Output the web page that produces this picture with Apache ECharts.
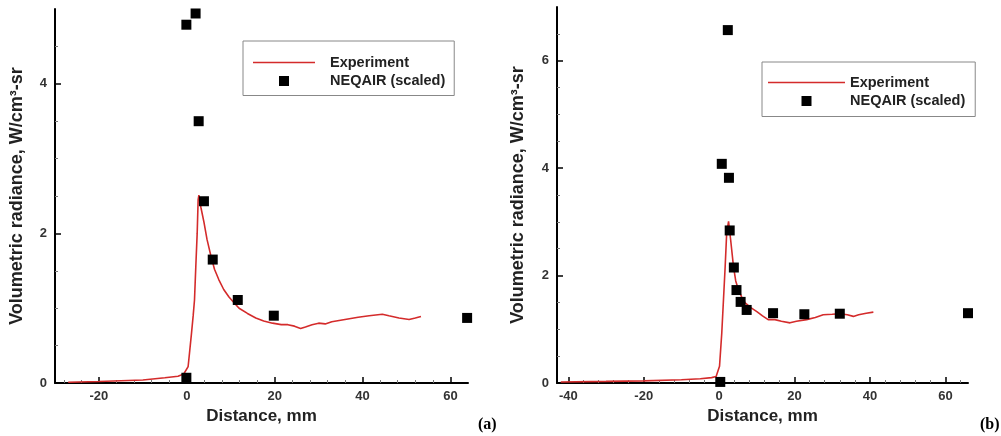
<!DOCTYPE html>
<html>
<head>
<meta charset="utf-8">
<script src="https://cdn.jsdelivr.net/npm/echarts@6/dist/echarts.min.js"></script>
<style>
  html, body { margin: 0; padding: 0; background: #fff; }
  #chart { width: 1001px; height: 436px; }
</style>
</head>
<body>
<div id="chart"></div>
<script>
// panel (a)
const expA = [[-27,0.01],[-20,0.02],[-15,0.03],[-10,0.04],[-5,0.07],[-2,0.09],[-0.7,0.12],[0.3,0.22],[0.68,0.44],[1.06,0.66],[1.45,0.9],[1.75,1.11],[2.05,1.56],[2.36,2.0],[2.58,2.45],[2.75,2.51],[3.2,2.35],[3.9,2.15],[4.6,1.92],[5.4,1.72],[6.3,1.52],[7.3,1.38],[8.4,1.25],[9.6,1.15],[10.8,1.07],[11.9,1.0],[13.8,0.93],[15.7,0.87],[17.5,0.83],[19.5,0.80],[21.5,0.78],[23,0.78],[24.5,0.76],[25.9,0.73],[27,0.75],[28.5,0.78],[30,0.80],[31.5,0.79],[33,0.82],[35,0.84],[37,0.86],[39,0.88],[41.5,0.90],[43,0.91],[44.5,0.92],[46,0.90],[48.3,0.87],[50.6,0.85],[52,0.87],[53.3,0.89]]
const neqA = [[-0.1,0.07],[-0.1,4.79],[2.0,4.94],[2.7,3.5],[3.9,2.43],[5.9,1.65],[11.6,1.11],[19.8,0.90],[63.8,0.87]]

// panel (b)
const expB = [[-42,0.02],[-30,0.03],[-20,0.04],[-10,0.06],[-5,0.08],[-2,0.10],[-0.8,0.12],[0.1,0.31],[0.7,0.93],[1.15,1.55],[1.6,2.17],[2.0,2.79],[2.5,3.01],[3.0,2.7],[3.8,2.17],[4.4,1.9],[5.1,1.74],[6.0,1.6],[6.9,1.49],[8.5,1.40],[10,1.33],[11.5,1.25],[13,1.18],[14.8,1.18],[16.5,1.15],[18.8,1.12],[20.5,1.15],[23.2,1.18],[25.5,1.22],[27.6,1.27],[30,1.28],[32,1.29],[34,1.27],[35.6,1.24],[37,1.27],[39,1.30],[40.9,1.32]]
const neqB = [[0.3,0.02],[0.7,4.08],[2.3,6.57],[2.6,3.82],[2.8,2.84],[3.9,2.15],[4.6,1.73],[5.7,1.51],[7.3,1.36],[14.3,1.30],[22.6,1.28],[32.0,1.29],[66,1.30]]

// ticks
const xMajorA = [-20, 0, 20, 40, 60]
const xMinorA = [-28, -24, -16, -12, -8, -4, 4, 8, 12, 16, 24, 28, 32, 36, 44, 48, 52, 56]
const yMajorA = [0, 2, 4]
const yMinorA = [0.5, 1, 1.5, 2.5, 3, 3.5, 4.5]
const xMajorB = [-40, -20, 0, 20, 40, 60]
const xMinorB = [-36, -32, -28, -24, -16, -12, -8, -4, 4, 8, 12, 16, 24, 28, 32, 36, 44, 48, 52, 56, 64]
const yMajorB = [0, 2, 4, 6]
const yMinorB = [0.5, 1, 1.5, 2.5, 3, 3.5, 4.5, 5, 5.5, 6.5]

const font = 'Liberation Sans, Arial, sans-serif'
const yName = 'Volumetric radiance, W/cm\u00b3-sr'
const xName = 'Distance, mm'

function xAxes(grid, min, max, major, minor) {
  return [{
    type: 'value', gridIndex: grid, min: min, max: max, position: 'bottom',
    name: xName, nameLocation: 'middle', nameGap: 25,
    nameTextStyle: { fontFamily: font, fontWeight: 'bold', fontSize: 17, color: '#222' },
    axisLine: { onZero: false, lineStyle: { color: '#000', width: 2 } },
    axisTick: { inside: true, length: 6, customValues: major, lineStyle: { color: '#000', width: 1.5 } },
    axisLabel: { customValues: major, margin: 7, fontFamily: font, fontWeight: 'bold', fontSize: 13, color: '#333' },
    splitLine: { show: false }
  }, {
    type: 'value', gridIndex: grid, min: min, max: max, position: 'bottom',
    axisLine: { show: false, onZero: false },
    axisTick: { inside: true, length: 3, customValues: minor, lineStyle: { color: '#777', width: 1 } },
    axisLabel: { show: false },
    splitLine: { show: false }
  }]
}

function yAxes(grid, max, major, minor, gap) {
  return [{
    type: 'value', gridIndex: grid, min: 0, max: max, position: 'left',
    name: yName, nameLocation: 'middle', nameGap: gap, nameRotate: 90,
    nameTextStyle: { fontFamily: font, fontWeight: 'bold', fontSize: 18, color: '#222' },
    axisLine: { show: true, onZero: false, lineStyle: { color: '#000', width: 2 } },
    axisTick: { show: true, inside: true, length: 6, customValues: major, lineStyle: { color: '#000', width: 1.5 } },
    axisLabel: { customValues: major, margin: 8, fontFamily: font, fontWeight: 'bold', fontSize: 13, color: '#333' },
    splitLine: { show: false }
  }, {
    type: 'value', gridIndex: grid, min: 0, max: max, position: 'left',
    axisLine: { show: false, onZero: false },
    axisTick: { show: true, inside: true, length: 3, customValues: minor, lineStyle: { color: '#777', width: 1 } },
    axisLabel: { show: false },
    splitLine: { show: false }
  }]
}

function legend(left, top, itemWidth, padding, textPad) {
  return {
    left: left, top: top, orient: 'vertical', selectedMode: false,
    itemWidth: itemWidth, itemHeight: 10, itemGap: 3.5,
    padding: padding, borderColor: '#888', borderWidth: 1,
    textStyle: { fontFamily: font, fontWeight: 'bold', fontSize: 14.5, color: '#222', padding: [0, 0, 0, textPad] },
    data: [
      { name: 'Experiment', icon: 'path://M0,0L' + itemWidth + ',0L' + itemWidth + ',1.6L0,1.6Z' },
      { name: 'NEQAIR (scaled)', icon: 'path://M0,0L10,0L10,10L0,10Z' }
    ]
  }
}

const red = '#d42b2b'
const lineStyle = { color: red, width: 1.6 }

const chart = echarts.init(document.getElementById('chart'))
chart.setOption({
  animation: false,
  grid: [
    { left: 55, top: 9, width: 413, height: 374 },
    { left: 557, top: 7, width: 411, height: 376 }
  ],
  xAxis: [].concat(xAxes(0, -30, 64, xMajorA, xMinorA), xAxes(1, -43, 66, xMajorB, xMinorB)),
  yAxis: [].concat(yAxes(0, 5, yMajorA, yMinorA, 29), yAxes(1, 7, yMajorB, yMinorB, 30)),
  legend: [
    legend(243, 41, 62, [14, 9, 7, 10], 10),
    legend(762, 62, 77, [13, 10, 8, 6], 0)
  ],
  graphic: [
    { type: 'text', left: 478, top: 417, style: { text: '(a)', font: 'bold 16px "Liberation Serif", "Times New Roman", serif', fill: '#000' } },
    { type: 'text', left: 980, top: 417, style: { text: '(b)', font: 'bold 16px "Liberation Serif", "Times New Roman", serif', fill: '#000' } }
  ],
  series: [
    { name: 'Experiment', type: 'line', xAxisIndex: 0, yAxisIndex: 0, data: expA, symbol: 'none', lineStyle: lineStyle, itemStyle: { color: red }, z: 2 },
    { name: 'NEQAIR (scaled)', type: 'scatter', xAxisIndex: 0, yAxisIndex: 0, data: neqA, symbol: 'rect', symbolSize: 10, itemStyle: { color: '#000', opacity: 1 }, clip: false, z: 3 },
    { name: 'Experiment', type: 'line', xAxisIndex: 2, yAxisIndex: 2, data: expB, symbol: 'none', lineStyle: lineStyle, itemStyle: { color: red }, z: 2 },
    { name: 'NEQAIR (scaled)', type: 'scatter', xAxisIndex: 2, yAxisIndex: 2, data: neqB, symbol: 'rect', symbolSize: 10, itemStyle: { color: '#000', opacity: 1 }, clip: false, z: 3 }
  ]
})
</script>
</body>
</html>
